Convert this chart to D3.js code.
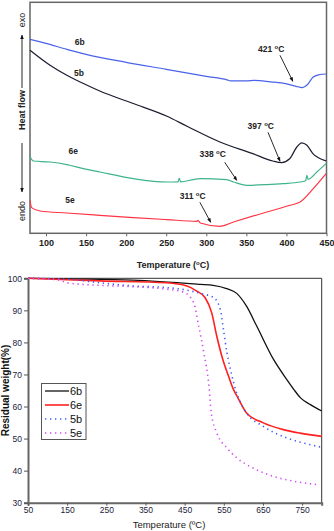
<!DOCTYPE html>
<html lang="en">
<head>
<meta charset="UTF-8">
<title>DSC and TGA</title>
<script src="https://d3js.org/d3.v7.min.js"></script>
<style>
    body { margin: 0; background: #fff; font-family: Arial, "Liberation Sans", sans-serif; }
    svg { display: block; }
    .tick text { font-family: Arial, "Liberation Sans", sans-serif; }
</style>
</head>
<body>
<script>
// ---- DSC (top): temperature (C) vs heat flow (arbitrary units) ----
const dsc6b = [[80,194],[100,190],[126,184],[150,179],[200,171],[250,164],[300,157],[326,153.5],[330,152.5],
    [350,152.5],[360,153],[380,151.5],[400,149.5],[412,147],[420,145.7],[426,148.5],[433,156],[440,158.5],[450,159.3]];
const dsc5b = [[80,183],[105,168],[126,158],[146,150],[167,142.3],[208,130],[251,117],[276,107],[317,91.3],
    [358,79.7],[383,72.3],[394,70.7],[404,74.5],[413,86.3],[419,90.5],[425.6,88],[433,79.7],[449.5,72.5]];
const dsc6e = [[80,77],[84,72.3],[105,71.3],[126,68.7],[146.5,64.7],[167,61.3],[209,54.7],[251,51.3],[264.7,51.5],
    [266.3,55],[268,51.5],[284,53.7],[292,54.7],[325.5,53.7],[334,51.3],[350.5,48],[375.5,48.7],[396,49.7],
    [417,51.3],[424,52.5],[425.5,58],[427,54],[438,61.3],[449.5,69.7]];
const dsc5e = [[80,33],[82,25.7],[92.5,22.3],[126,20.3],[167,18],[209,15.7],[250.5,13.7],[288,12],[289.5,13],
    [292.5,10.3],[317,7],[334,11.3],[375.5,21.3],[404.5,28],[417,31.3],[433.5,44.7],[449.5,59.7]];
const dscTicks = [100, 150, 200, 250, 300, 350, 400, 450];
const dscNames = [["6b",142,191],["5b",141,160],["6e",134,82],["5e",130,33]];
// peak label: text, T, value, arrow from (T,v) to (T,v)
const dscPeaks = [["421",381,184,392,178,408,152],["397",368,107,377,101,392,72],
    ["338",308,79,323,71,338,53],["311",283,37,292,31,305.5,11]];

// ---- TGA (bottom): temperature (C) vs residual weight (%) ----
const tga6b = [[50,100],[150,99.8],[318,99.4],[490,98.1],[523,97.8],[557,96.8],[583,95.3],[608,91.3],[634,85.1],
    [677,74.7],[711,68.4],[729,65.3],[746,62.7],[771,60.6],[800,58.6]];
const tga6e = [[50,100],[234,99.2],[404,98.6],[456,97.6],[481,96],[502,94],[519,89.3],[532,82],[545,75.7],
    [562,69.5],[574,65.5],[587,62.5],[608,58],[651,54.9],[702,52.8],[745,51.7],[800,50.7]];
const tga5b = [[50,100],[153,99.7],[234,98.6],[319,97.6],[404,97.1],[456,96.3],[490,95.3],[524,94],[541,90.3],
    [549,84.1],[558,76.8],[571,69.5],[582,64.5],[592,61.5],[608,58],[651,53.8],[711,50.2],[754,48.6],[796,47.4]];
const tga5e = [[50,100],[128,99.5],[149,98.6],[234,97.8],[319,97.4],[404,96.6],[447,95.7],[473,92.4],[486,85.1],
    [499,76.8],[512,66.5],[518,58],[532,51.8],[558,47.1],[583,44],[625,40.8],[677,38.2],[729,36.7],[792,35.6]];
const tgaXTicks = [50, 150, 250, 350, 450, 550, 650, 750];
const tgaYTicks = [30, 40, 50, 60, 70, 80, 90, 100];
const tgaNames = ["6b", "6e", "5b", "5e"];

const W = 334, H = 531;
const svg = d3.select("body").append("svg").attr("width", W).attr("height", H);

// ================= top chart =================
const x1 = d3.scaleLinear().domain([80, 450]).range([30, 326.5]);
const y1 = d3.scaleLinear().domain([0, 231]).range([233.3, 2.3]);
const gTop = svg.append("g");

const defs = svg.append("defs");
defs.append("marker").attr("id", "ah").attr("viewBox", "0 0 10 10").attr("refX", 9).attr("refY", 5)
    .attr("markerWidth", 5).attr("markerHeight", 5).attr("orient", "auto")
    .append("path").attr("d", "M0,1 L10,5 L0,9 z").attr("fill", "#111");

gTop.append("rect").attr("x", x1(80)).attr("y", y1(231)).attr("width", x1(450) - x1(80))
    .attr("height", y1(0) - y1(231)).attr("fill", "none").attr("stroke", "#666").attr("stroke-width", 1.5);

const xAx1 = gTop.append("g").attr("transform", `translate(0,${y1(0)})`)
    .call(d3.axisBottom(x1).tickValues(dscTicks).tickSize(3).tickPadding(3));
xAx1.select(".domain").remove();
xAx1.selectAll("line").attr("stroke", "#666");
xAx1.selectAll("text").attr("font-size", 9).attr("font-weight", "bold").attr("fill", "#222");

const t1 = gTop.append("text").attr("x", 173).attr("y", 268).attr("text-anchor", "middle")
    .attr("font-size", 9).attr("font-weight", "bold").attr("fill", "#222");
t1.append("tspan").text("Temperature (");
t1.append("tspan").attr("font-size", 6).attr("dy", -3).text("o");
t1.append("tspan").attr("dy", 3).text("C)");

const line1 = d3.line().x(d => x1(d[0])).y(d => y1(d[1])).curve(d3.curveMonotoneX);
[[dsc6b, "#4a63e8"], [dsc5b, "#1c1c30"], [dsc6e, "#3db489"], [dsc5e, "#ff3344"]].forEach(([d, c]) => {
    gTop.append("path").datum(d).attr("d", line1).attr("fill", "none").attr("stroke", c).attr("stroke-width", 1.2);
});

dscNames.forEach(([n, t, v]) => {
    gTop.append("text").attr("x", x1(t)).attr("y", y1(v)).attr("dy", "0.35em").attr("text-anchor", "middle")
        .attr("font-size", 8.5).attr("font-weight", "bold").attr("fill", "#222").text(n);
});

dscPeaks.forEach(([lab, t, v, ax, ay, bx, by]) => {
    const tx = gTop.append("text").attr("x", x1(t)).attr("y", y1(v)).attr("dy", "0.35em").attr("text-anchor", "middle")
        .attr("font-size", 8.5).attr("font-weight", "bold").attr("fill", "#222");
    tx.append("tspan").text(lab + " ");
    tx.append("tspan").attr("font-size", 6).attr("dy", -3).text("o");
    tx.append("tspan").attr("dy", 3).text("C");
    gTop.append("line").attr("x1", x1(ax)).attr("y1", y1(ay)).attr("x2", x1(bx)).attr("y2", y1(by))
        .attr("stroke", "#111").attr("stroke-width", 0.9).attr("marker-end", "url(#ah)");
});

// heat flow side label
const lx = 22;
gTop.append("text").attr("transform", `translate(${lx + 3},20) rotate(-90)`).attr("text-anchor", "middle")
    .attr("font-size", 9).attr("fill", "#222").text("exo");
gTop.append("line").attr("x1", lx).attr("y1", 88).attr("x2", lx).attr("y2", 35)
    .attr("stroke", "#111").attr("stroke-width", 0.9).attr("marker-end", "url(#ah)");
gTop.append("text").attr("transform", `translate(${lx + 3},110) rotate(-90)`).attr("text-anchor", "middle")
    .attr("font-size", 9).attr("font-weight", "bold").attr("fill", "#222").text("Heat flow");
gTop.append("line").attr("x1", lx).attr("y1", 143).attr("x2", lx).attr("y2", 192)
    .attr("stroke", "#111").attr("stroke-width", 0.9).attr("marker-end", "url(#ah)");
gTop.append("text").attr("transform", `translate(${lx + 3},211) rotate(-90)`).attr("text-anchor", "middle")
    .attr("font-size", 9).attr("fill", "#222").text("endo");

// ================= bottom chart =================
const x2 = d3.scaleLinear().domain([50, 800]).range([28, 321.7]);
const y2 = d3.scaleLinear().domain([30, 100]).range([502.7, 278.3]);
const gBot = svg.append("g");

gBot.append("path").attr("d", `M${x2(50)},${y2(100)}H${x2(800)}V${y2(30)}`)
    .attr("fill", "none").attr("stroke", "#333").attr("stroke-width", 1);

const xAx2 = gBot.append("g").attr("transform", `translate(0,${y2(30)})`)
    .call(d3.axisBottom(x2).tickValues(tgaXTicks).tickSize(3).tickPadding(1));
const yAx2 = gBot.append("g").attr("transform", `translate(${x2(50)},0)`)
    .call(d3.axisLeft(y2).tickValues(tgaYTicks).tickSize(4).tickPadding(2));
[xAx2, yAx2].forEach(a => {
    a.select(".domain").attr("stroke", "#666").attr("stroke-width", 2);
    a.selectAll("line").attr("stroke", "#555");
    a.selectAll("text").attr("font-size", 8.5).attr("fill", "#1c1c3c");
});

gBot.append("text").attr("x", 169).attr("y", 528).attr("text-anchor", "middle")
    .attr("font-size", 9.5).attr("fill", "#222").text("Temperature (ºC)");
gBot.append("text").attr("transform", `translate(9,${(y2(30) + y2(100)) / 2}) rotate(-90)`)
    .attr("text-anchor", "middle").attr("font-size", 10).attr("font-weight", "bold").attr("fill", "#111")
    .text("Residual weight(%)");

const line2 = d3.line().x(d => x2(d[0])).y(d => y2(d[1])).curve(d3.curveMonotoneX);
const tgaStyles = [
    [tga6b, "#111", 1.3, null],
    [tga6e, "#ff2020", 1.6, null],
    [tga5b, "#3d5cff", 1.6, "1.3,3.7"],
    [tga5e, "#d04cf0", 1.6, "1.3,3.7"]
];
tgaStyles.forEach(([d, c, w, da]) => {
    gBot.append("path").datum(d).attr("d", line2).attr("fill", "none").attr("stroke", c)
        .attr("stroke-width", w).attr("stroke-dasharray", da);
});

// legend
const leg = gBot.append("g");
leg.append("rect").attr("x", 41.5).attr("y", 383.5).attr("width", 44.5).attr("height", 56)
    .attr("fill", "#fff").attr("stroke", "#555").attr("stroke-width", 1);
tgaNames.forEach((n, i) => {
    const yy = 391 + i * 14;
    const s = tgaStyles[i];
    leg.append("line").attr("x1", 45).attr("x2", 69).attr("y1", yy).attr("y2", yy)
        .attr("stroke", s[1]).attr("stroke-width", s[2]).attr("stroke-dasharray", s[3]);
    leg.append("text").attr("x", 70).attr("y", yy).attr("dy", "0.35em")
        .attr("font-size", 11).attr("fill", "#111").text(n);
});
</script>
</body>
</html>
